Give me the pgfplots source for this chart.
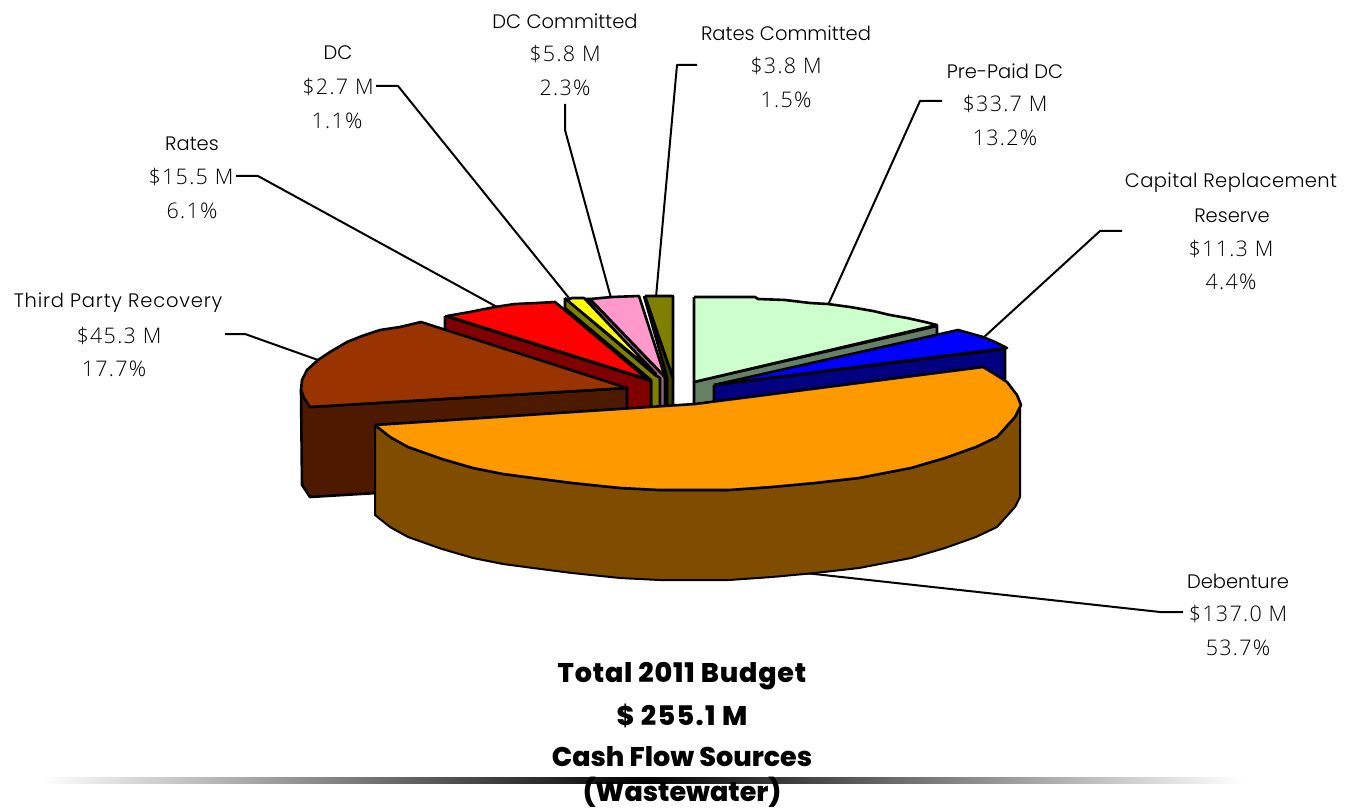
\documentclass[border=0pt]{standalone}
\usepackage{pgfplots}
\pgfplotsset{compat=1.18}
\usepackage{fontspec}
\setmainfont{Poppins Light}[BoldFont={Poppins ExtraBold}]
\newfontfamily\numf{Open Sans Light}[LetterSpace=6]
\definecolor{cTP}{HTML}{993300}\definecolor{cTPs}{HTML}{4D1A00}
\definecolor{cOr}{HTML}{FF9900}\definecolor{cOrs}{HTML}{804D00}
\definecolor{cRe}{HTML}{FF0000}\definecolor{cRes}{HTML}{800000}
\definecolor{cYe}{HTML}{FFFF00}\definecolor{cYes}{HTML}{808000}
\definecolor{cPi}{HTML}{FF99CC}\definecolor{cPis}{HTML}{996680}
\definecolor{cOl}{HTML}{808000}\definecolor{cOls}{HTML}{404000}
\definecolor{cGr}{HTML}{CCFFCC}\definecolor{cGrs}{HTML}{668066}
\definecolor{cBl}{HTML}{0000FF}\definecolor{cBls}{HTML}{000080}
\tikzset{
 slice/.style={fill=#1,draw=black,line width=2.6pt,line join=round},
 leader/.style={draw=black,line width=2pt,line join=round,no markers},
 lab/.style={font=\fontsize{19.5}{20}\selectfont,anchor=center,inner sep=0pt,text=black},
 num/.style={font=\fontsize{21.5}{22}\selectfont\numf,anchor=center,inner sep=0pt,text=black},
 ttl/.style={font=\fontsize{27}{27}\bfseries\selectfont,anchor=center,inner sep=0pt,text=black}
}
\begin{document}
\begin{tikzpicture}
\path[use as bounding box] (0,0) rectangle (1356pt,810pt);
\begin{axis}[at={(0,0)},anchor=south west,width=1356pt,height=810pt,scale only axis,hide axis,
  xmin=0,xmax=1356,ymin=0,ymax=810,y dir=reverse,clip=false]
% leaders
\addplot[leader] coordinates {(225,334)(245,334)(318,360)};
\addplot[leader] coordinates {(236,176)(258,176)(497,307)};
\addplot[leader] coordinates {(376,86)(398,86)(569,298)};
\addplot[leader] coordinates {(565,104)(565,130)(611,298)};
\addplot[leader] coordinates {(697,65)(677,65)(656,297)};
\addplot[leader] coordinates {(942,101)(920,101)(828,305)};
\addplot[leader] coordinates {(1122,231)(1100,231)(983,338)};
\addplot[leader] coordinates {(1183,612)(1160,612)(805,573)};
% Rates Committed
\addplot[slice=cOls] coordinates {(644,296)(667,377)(667,410)(673,410)(673,378)(644,296)};
\addplot[slice=cOl] coordinates {(645,296)(673,296)(673,378)(645,296)};
% DC Committed
\addplot[slice=cPis] coordinates {(586,299)(658,380)(660,410)(665,410)(665,377)(590,299)(586,299)};
\addplot[slice=cPi] coordinates {(590,299)(612,297)(639,296)(665,377)(590,299)};
% DC
\addplot[slice=cYes] coordinates {(565,298)(655,375)(660,378)(660,410)(651,410)(651,380)(565,308)(565,298)};
\addplot[slice=cYe] coordinates {(567,300)(572,298)(584,298)(656,374)(567,300)};
% Rates
\addplot[slice=cRes] coordinates {(445,316)(651,381)(651,410)(620,410)(445,340)(445,316)};
\addplot[slice=cRe] coordinates {(447,316)(470,312)(495,307)(515,304)(537,303)(555,302)(647,379)(447,316)};
% Third Party Recovery
\addplot[slice=cTPs] coordinates {(310,407)(627,388)(627,478)(310,497)(302,485)(301,390)(310,407)};
\addplot[slice=cTP] coordinates {(310,407)(304,398)(301,390)(302,380)(307,370)(318,360)(330,352)(347,342)(362,336)(380,330)(400,327)(421,322)(627,388)(310,407)};
% Pre-Paid DC
\addplot[slice=cGrs] coordinates {(694,382)(937,326)(937,345)(694,410)(694,382)};
\addplot[slice=cGr] coordinates {(694,297)(755,297)(758,299)(785,300)(810,303)(828,304)(850,307)(873,311)(890,315)(907,318)(925,322)(937,325)(694,382)(694,297)};
% Capital Replacement Reserve
\addplot[slice=cBls] coordinates {(714,385)(1005,349)(1005,400)(714,410)(714,385)};
\addplot[slice=cBl] coordinates {(714,385)(958,330)(983,337)(995,342)(1007,348)(714,385)};
% Debenture
\addplot[slice=cOrs,line width=2pt] coordinates {(375,425)(390,437)(408,447)(442,459)(473,468)(503,474)(533,478)(572,483)(620,488)(659,490)(729,490)(772,487)(815,483)(859,478)(911,468)(945,458)(976,447)(997,437)(1015,417)(1020,407)
 (1020,497)(1015,507)(997,527)(976,537)(945,548)(911,558)(859,568)(815,573)(772,577)(729,580)(659,580)(620,578)(572,573)(533,568)(503,564)(473,558)(442,549)(408,537)(390,527)(375,515)(375,425)};
\addplot[slice=cOr] coordinates {(375,425)(695,404)(983,367)(993,373)(1007,382)(1017,395)(1021,405)(1020,407)(1015,417)(997,437)(976,447)(945,458)(911,468)(859,478)(815,483)(772,487)(729,490)(659,490)(620,488)(572,483)(533,478)(503,474)(473,468)(442,459)(408,447)(390,437)(375,425)};
% rule
\path[left color=white,right color=white,middle color=black] (axis cs:43,777) rectangle (axis cs:1243,783);
% labels
\node[lab] at (axis cs:118,303) {\addfontfeature{LetterSpace=4}Third Party Recovery};
\node[num] at (axis cs:119,336) {\$45.3 M};
\node[num] at (axis cs:114,369) {17.7\%};
\node[lab] at (axis cs:192,144) {Rates};
\node[num] at (axis cs:191,177) {\$15.5 M};
\node[num] at (axis cs:192,211) {6.1\%};
\node[lab] at (axis cs:338,53) {DC};
\node[num] at (axis cs:338,87) {\$2.7 M};
\node[num] at (axis cs:337,121) {1.1\%};
\node[lab] at (axis cs:565,21) {DC Committed};
\node[num] at (axis cs:565,54) {\$5.8 M};
\node[num] at (axis cs:565,88) {2.3\%};
\node[lab] at (axis cs:786,33) {Rates Committed};
\node[num] at (axis cs:786,66) {\$3.8 M};
\node[num] at (axis cs:786,100) {1.5\%};
\node[lab] at (axis cs:1005,71) {Pre-Paid DC};
\node[num] at (axis cs:1005,104) {\$33.7 M};
\node[num] at (axis cs:1005,138) {13.2\%};
\node[lab] at (axis cs:1231,183) {\addfontfeature{LetterSpace=2}Capital Replacement};
\node[lab] at (axis cs:1232,216) {Reserve};
\node[num] at (axis cs:1231,249) {\$11.3 M};
\node[num] at (axis cs:1231,282) {4.4\%};
\node[lab] at (axis cs:1238,581) {Debenture};
\node[num] at (axis cs:1238,614) {\$137.0 M};
\node[num] at (axis cs:1238,648) {53.7\%};
\node[ttl] at (axis cs:682,676) {\addfontfeature{LetterSpace=3}Total 2011 Budget};
\node[ttl] at (axis cs:682,716) {\addfontfeature{LetterSpace=5}\$ 255.1 M};
\node[ttl] at (axis cs:682,757) {Cash Flow Sources};
\node[ttl] at (axis cs:682,792) {(Wastewater)};
\end{axis}
\end{tikzpicture}
\end{document}
